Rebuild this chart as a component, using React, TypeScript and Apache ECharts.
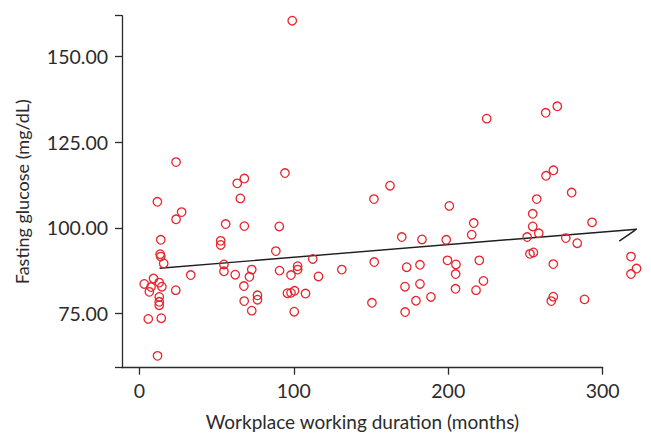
import React, { useEffect, useRef } from "react";
import * as echarts from "echarts";

// Workplace working duration (months)
const durationMonths: number[] = [
  99.0, 23.8, 63.4, 68.0, 94.3, 11.7, 65.4, 27.4, 23.8, 55.9,
  68.0, 90.6, 13.9, 52.7, 52.7, 13.5, 13.9, 15.8, 88.4, 54.8,
  54.8, 72.8, 62.1, 71.3, 90.8, 102.5, 102.5, 98.2, 112.3, 116.0,
  33.3, 9.2, 3.2, 12.9, 14.6, 7.6, 6.5, 23.6, 12.9, 12.9,
  12.9, 67.7, 67.9, 76.5, 76.5, 72.8, 95.9, 98.2, 100.5, 107.6,
  100.3, 5.8, 14.2, 11.8, 131.1, 151.9, 162.3, 152.1, 150.6,
  224.9, 200.7, 216.5, 215.2, 169.9, 183.0, 198.7, 173.1, 181.7, 199.5,
  205.0, 220.1, 204.8, 172.0, 181.7, 222.8, 204.7, 218.0, 179.1, 188.8,
  172.1,
  263.1, 270.6, 268.1, 263.3, 279.9, 257.3, 254.7, 293.1, 254.7, 258.6,
  251.1, 276.1, 283.5, 252.9, 255.1, 268.0, 318.3, 321.9, 318.3, 268.0,
  266.7, 288.2,
];

// Fasting glucose (mg/dL)
const glucose: number[] = [
  160.5, 119.2, 113.0, 114.4, 116.0, 107.6, 108.6, 104.6, 102.5, 101.1,
  100.5, 100.4, 96.5, 96.2, 95.0, 92.3, 91.6, 89.6, 93.2, 89.3,
  87.3, 87.8, 86.3, 85.7, 87.5, 88.8, 87.8, 86.2, 90.9, 85.8,
  86.2, 85.2, 83.6, 84.0, 82.8, 82.7, 81.3, 81.8, 79.8, 78.4,
  77.4, 83.0, 78.6, 80.3, 79.0, 75.8, 80.9, 81.0, 81.6, 80.8,
  75.5, 73.4, 73.6, 62.6, 87.8, 108.4, 112.3, 90.0, 78.1,
  131.9, 106.4, 101.4, 98.0, 97.3, 96.6, 96.5, 88.5, 89.2, 90.5,
  89.3, 90.5, 86.5, 82.8, 83.6, 84.5, 82.2, 81.8, 78.7, 79.8,
  75.4,
  133.6, 135.5, 116.8, 115.2, 110.3, 108.4, 104.1, 101.6, 100.4, 98.4,
  97.3, 97.0, 95.5, 92.4, 92.8, 89.4, 91.6, 88.1, 86.5, 79.9,
  78.6, 79.1,
];

// Fit line as drawn (including the end hook)
const fitX: number[] = [13.1, 322.0, 310.7];
const fitY: number[] = [88.2, 99.6, 96.1];

const xTicks: number[] = [0, 100, 200, 300];
const yTicks: number[] = [75, 100, 125, 150];

const X_MIN = -11.2;
const X_AXIS_MAX = 300;
const X_DATA_MAX = 330;
const Y_MIN = 59.14;
const Y_MAX = 161.97;

const FONT = "Lato, 'Open Sans', sans-serif";
const INK = "#2b2b2b";
const RED = "#e8232b";

export default function App() {
  const ref = useRef<HTMLDivElement>(null);

  useEffect(() => {
    if (!ref.current) return;
    const chart = echarts.init(ref.current, undefined, { renderer: "svg" });

    const gridTop = 15.7;
    const gridBottom = 435 - 367.7;
    const gridLeft = 122;
    const pxPerUnit = 1.5447;
    const axisRight = 651 - (gridLeft + (X_AXIS_MAX - X_MIN) * pxPerUnit);
    const dataRight = 651 - (gridLeft + (X_DATA_MAX - X_MIN) * pxPerUnit);

    const scatterData = durationMonths.map((x, i) => [x, glucose[i]]);
    const fitData = fitX.map((x, i) => [x, fitY[i]]);

    chart.setOption({
      animation: false,
      backgroundColor: "#ffffff",
      grid: [
        {
          left: gridLeft,
          right: axisRight,
          top: gridTop,
          bottom: gridBottom,
          outerBoundsMode: "none",
        },
        {
          left: gridLeft,
          right: dataRight,
          top: gridTop,
          bottom: gridBottom,
          outerBoundsMode: "none",
        },
      ],
      xAxis: [
        {
          type: "value",
          gridIndex: 0,
          min: X_MIN,
          max: X_AXIS_MAX,
          splitLine: { show: false },
          axisLine: {
            show: true,
            onZero: false,
            lineStyle: { color: INK, width: 1.3 },
          },
          axisTick: {
            show: true,
            length: 7,
            customValues: xTicks,
            lineStyle: { color: INK, width: 1.3 },
          },
          axisLabel: {
            customValues: xTicks,
            margin: 13,
            color: INK,
            fontFamily: FONT,
            fontSize: 19.5,
          },
          name: "Workplace working duration (months)",
          nameLocation: "middle",
          nameGap: 44,
          nameTextStyle: { color: INK, fontFamily: FONT, fontSize: 19 },
        },
        {
          type: "value",
          gridIndex: 1,
          min: X_MIN,
          max: X_DATA_MAX,
          show: false,
        },
      ],
      yAxis: [
        {
          type: "value",
          gridIndex: 0,
          min: Y_MIN,
          max: Y_MAX,
          splitLine: { show: false },
          axisLine: {
            show: true,
            onZero: false,
            lineStyle: { color: INK, width: 1.3 },
          },
          axisTick: {
            show: true,
            length: 7,
            customValues: [Y_MIN, ...yTicks, Y_MAX],
            lineStyle: { color: INK, width: 1.3 },
          },
          axisLabel: {
            customValues: yTicks,
            margin: 14,
            color: INK,
            fontFamily: FONT,
            fontSize: 19.5,
            formatter: (v: number) => v.toFixed(2),
          },
          name: "Fasting glucose (mg/dL)",
          nameLocation: "middle",
          nameGap: 91,
          nameTextStyle: { color: INK, fontFamily: FONT, fontSize: 18 },
        },
        {
          type: "value",
          gridIndex: 1,
          min: Y_MIN,
          max: Y_MAX,
          show: false,
        },
      ],
      series: [
        {
          type: "scatter",
          xAxisIndex: 0,
          yAxisIndex: 0,
          data: [],
        },
        {
          type: "line",
          xAxisIndex: 1,
          yAxisIndex: 1,
          data: fitData,
          symbol: "none",
          lineStyle: { color: "#1e1e1e", width: 1.4 },
          silent: true,
          z: 2,
        },
        {
          type: "scatter",
          xAxisIndex: 1,
          yAxisIndex: 1,
          data: scatterData,
          symbol: "circle",
          symbolSize: 8.5,
          itemStyle: {
            color: "rgba(0,0,0,0)",
            borderColor: RED,
            borderWidth: 1.3,
            opacity: 1,
          },
          z: 3,
        },
      ],
    });

    return () => {
      chart.dispose();
    };
  }, []);

  return (
    <div
      ref={ref}
      style={{ position: "fixed", left: 0, top: 0, width: 651, height: 435 }}
    />
  );
}
